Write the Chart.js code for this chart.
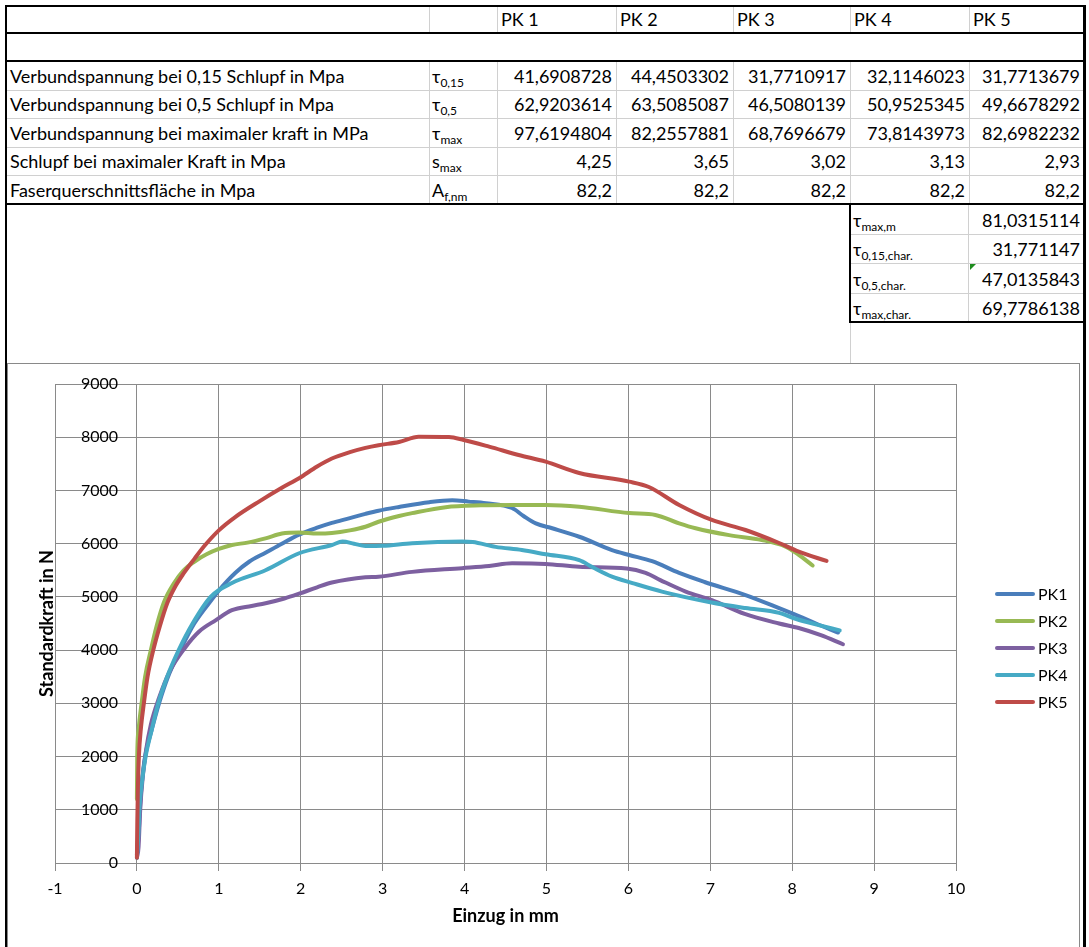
<!DOCTYPE html>
<html lang="de">
<head>
<meta charset="utf-8">
<title>Auszugversuche PK 1 bis PK 5</title>
<script src="https://cdn.jsdelivr.net/npm/chart.js@4.4.1/dist/chart.umd.min.js"></script>
<style>
  html, body { margin: 0; padding: 0; background: #fff; }
  body { position: relative; width: 1089px; height: 947px; overflow: hidden; font-family: Lato, "Open Sans", sans-serif; color: #000; }
  .z { position: absolute; box-sizing: border-box; display: flex; align-items: flex-end; font-size: 18px; line-height: 1; padding: 0 4px 5px 4px; white-space: nowrap; }
  .z.r { justify-content: flex-end; }
  .z sub { font-size: 12px; line-height: 1; vertical-align: baseline; position: relative; top: 4px; }
  .l { position: absolute; }
  #rahmen { position: absolute; left: 7px; top: 363px; width: 1073px; height: 620px; border: 1px solid #898989; box-sizing: border-box; }
  #grafik { position: absolute; left: 7px; top: 364px; }
  #legende { position: absolute; left: 995px; top: 580px; font-size: 16px; }
  #legende div { height: 27px; display: flex; align-items: center; }
  #legende span.strich { display: inline-block; width: 40px; height: 4px; border-radius: 2px; margin-right: 3px; }
  .ecke { position: absolute; width: 0; height: 0; border-top: 6px solid #1e8c1e; border-right: 6px solid transparent; }
</style>
</head>
<body>
<div id="rahmen"></div>
<canvas id="grafik" width="1073" height="583"></canvas>
<div id="legende"></div>
<script>
// Kennwerte der Probekörper
const probekoerper = ['PK 1', 'PK 2', 'PK 3', 'PK 4', 'PK 5'];
const kennwerte = [
  'Verbundspannung bei 0,15 Schlupf in Mpa',
  'Verbundspannung bei 0,5 Schlupf in Mpa',
  'Verbundspannung bei maximaler kraft in MPa',
  'Schlupf bei maximaler Kraft in Mpa',
  'Faserquerschnittsfläche in Mpa'
];
const symbole = [['τ', '0,15'], ['τ', '0,5'], ['τ', 'max'], ['s', 'max'], ['A', 'f,nm']];
const werte = [
  ['41,6908728', '44,4503302', '31,7710917', '32,1146023', '31,7713679'],
  ['62,9203614', '63,5085087', '46,5080139', '50,9525345', '49,6678292'],
  ['97,6194804', '82,2557881', '68,7696679', '73,8143973', '82,6982232'],
  ['4,25', '3,65', '3,02', '3,13', '2,93'],
  ['82,2', '82,2', '82,2', '82,2', '82,2']
];
const auswertungSymbole = [['τ', 'max,m'], ['τ', '0,15,char.'], ['τ', '0,5,char.'], ['τ', 'max,char.']];
const auswertungWerte = ['81,0315114', '31,771147', '47,0135843', '69,7786138'];

// Kraft-Einzug-Kurven (Einzug in mm, Standardkraft in N)
const einzugPK1 = [0, 0.02, 0.04, 0.06, 0.1, 0.18, 0.27, 0.38, 0.53, 0.7, 0.94, 1.0, 1.2, 1.37, 1.57, 1.77, 1.98, 2.2, 2.38, 2.6, 2.79, 2.95, 3.2, 3.57, 3.85, 4.05, 4.26, 4.58, 4.72, 4.87, 5.07, 5.4, 5.8, 6.01, 6.29, 6.62, 6.93, 7.43, 7.84, 8.08, 8.29, 8.56];
const kraftPK1  = [150, 500, 1100, 1500, 2000, 2500, 3000, 3500, 4000, 4500, 5000, 5120, 5450, 5660, 5830, 6000, 6170, 6300, 6390, 6480, 6560, 6620, 6690, 6780, 6815, 6790, 6760, 6670, 6520, 6380, 6290, 6130, 5880, 5787, 5670, 5450, 5280, 5035, 4790, 4640, 4500, 4330];

const einzugPK2 = [0, 0.004, 0.02, 0.057, 0.1, 0.17, 0.24, 0.33, 0.45, 0.57, 0.7, 0.85, 1.0, 1.16, 1.35, 1.57, 1.77, 1.98, 2.2, 2.38, 2.6, 2.79, 2.95, 3.2, 3.36, 3.77, 4.2, 4.58, 4.99, 5.4, 6.01, 6.33, 6.62, 6.82, 7.23, 7.63, 7.92, 8.08, 8.25];
const kraftPK2  = [1200, 2000, 2500, 3000, 3500, 4000, 4450, 4900, 5250, 5500, 5660, 5800, 5900, 5975, 6020, 6100, 6190, 6210, 6190, 6200, 6250, 6318, 6412, 6520, 6574, 6686, 6720, 6727, 6727, 6695, 6574, 6540, 6382, 6290, 6160, 6070, 5945, 5790, 5590];

const einzugPK3 = [0, 0.02, 0.04, 0.07, 0.11, 0.17, 0.27, 0.4, 0.59, 0.76, 0.96, 1.16, 1.4, 1.57, 1.8, 1.98, 2.2, 2.38, 2.79, 2.95, 3.36, 3.97, 4.3, 4.58, 4.99, 5.4, 5.98, 6.21, 6.39, 6.7, 7.02, 7.42, 7.84, 8.08, 8.35, 8.62];
const kraftPK3  = [100, 300, 1000, 1600, 2100, 2600, 3100, 3600, 4050, 4350, 4560, 4750, 4830, 4880, 4970, 5060, 5180, 5270, 5370, 5380, 5470, 5540, 5580, 5630, 5620, 5567, 5534, 5450, 5316, 5100, 4940, 4680, 4500, 4415, 4280, 4110];

const einzugPK4 = [0, 0.02, 0.03, 0.06, 0.106, 0.18, 0.26, 0.37, 0.51, 0.68, 0.9, 1.16, 1.57, 1.98, 2.38, 2.51, 2.65, 2.79, 3.0, 3.36, 3.97, 4.1, 4.38, 4.7, 4.99, 5.4, 5.56, 5.8, 6.05, 6.41, 7.0, 7.43, 7.84, 8.05, 8.3, 8.58];
const kraftPK4  = [100, 600, 1000, 1500, 2000, 2500, 3000, 3500, 4000, 4500, 5000, 5260, 5500, 5820, 5975, 6040, 6000, 5955, 5960, 6010, 6040, 6030, 5940, 5880, 5800, 5690, 5560, 5380, 5260, 5100, 4900, 4790, 4700, 4585, 4480, 4370];

const einzugPK5 = [0, 0.005, 0.012, 0.024, 0.05, 0.085, 0.13, 0.2, 0.28, 0.37, 0.47, 0.57, 0.7, 0.82, 1.0, 1.2, 1.5, 1.77, 1.98, 2.2, 2.38, 2.6, 2.79, 2.95, 3.2, 3.44, 3.81, 3.99, 4.3, 4.66, 4.99, 5.4, 6.01, 6.25, 6.62, 7.02, 7.43, 7.84, 8.08, 8.42];
const kraftPK5  = [100, 800, 1400, 2000, 2550, 3000, 3500, 4000, 4450, 4880, 5200, 5440, 5710, 5950, 6250, 6500, 6800, 7050, 7230, 7450, 7600, 7720, 7800, 7850, 7910, 8010, 8004, 7948, 7823, 7666, 7540, 7327, 7165, 7065, 6727, 6445, 6257, 6013, 5850, 5675];

const reihenNamen = ['PK1', 'PK2', 'PK3', 'PK4', 'PK5'];
const reihenFarben = ['#4a7ebb', '#98b954', '#7d60a0', '#46aac5', '#be4b48'];
const einzug = [einzugPK1, einzugPK2, einzugPK3, einzugPK4, einzugPK5];
const kraft = [kraftPK1, kraftPK2, kraftPK3, kraftPK4, kraftPK5];

const xMin = -1, xMax = 10, xSchritt = 1;
const yMin = 0, yMax = 9000, ySchritt = 1000;

// --- Tabelle über der Grafik ---
const spalten = [6, 429, 497, 616, 733, 850, 969, 1084];
const zeilen = [61, 89.6, 118.2, 146.8, 175.4, 204];
const zeilenAuswertung = [204, 233.5, 263, 292.5, 322];
const grau = '#d0d0d0';

function linie(x, y, w, h, farbe) {
  const d = document.createElement('div');
  d.className = 'l';
  Object.assign(d.style, { left: x + 'px', top: y + 'px', width: w + 'px', height: h + 'px', background: farbe });
  document.body.appendChild(d);
}

function zelle(x0, y0, x1, y1, html, rechts) {
  const d = document.createElement('div');
  d.className = rechts ? 'z r' : 'z';
  Object.assign(d.style, { left: x0 + 'px', top: y0 + 'px', width: (x1 - x0) + 'px', height: (y1 - y0) + 'px' });
  d.innerHTML = html;
  document.body.appendChild(d);
}

const mitIndex = s => s[0] + '<sub>' + s[1] + '</sub>';

// Kopfzeile
spalten.slice(1, -1).forEach(x => linie(x, 6, 1, 27, grau));
probekoerper.forEach((pk, i) => zelle(spalten[i + 2], 6, spalten[i + 3], 33, pk, false));

// Kennwertzeilen
zeilen.slice(1, -1).forEach(y => linie(6, y, 1078, 1, grau));
spalten.slice(1, -1).forEach(x => linie(x, 61, 1, 143, grau));
kennwerte.forEach((text, r) => {
  const y0 = zeilen[r], y1 = zeilen[r + 1];
  zelle(spalten[0], y0, spalten[1], y1, text, false);
  zelle(spalten[1] - 1, y0, spalten[2], y1, mitIndex(symbole[r]), false);
  werte[r].forEach((w, i) => zelle(spalten[i + 2], y0, spalten[i + 3], y1, w, true));
});

// Auswertung rechts unten
linie(968, 204, 1, 118, grau);
zeilenAuswertung.slice(1, -1).forEach(y => linie(850, y, 234, 1, grau));
linie(850, 322, 1, 41, grau);
auswertungSymbole.forEach((s, r) => {
  const y0 = zeilenAuswertung[r], y1 = zeilenAuswertung[r + 1];
  zelle(849, y0, 968, y1, mitIndex(s), false);
  zelle(968, y0, 1084, y1, auswertungWerte[r], true);
});
const ecke = document.createElement('div');
ecke.className = 'ecke';
Object.assign(ecke.style, { left: '970px', top: '264px' });
document.body.appendChild(ecke);

// dicke Rahmenlinien
linie(5, 5, 1081, 2, '#000');
linie(5, 32, 1081, 2, '#000');
linie(5, 60, 1081, 2, '#000');
linie(5, 203, 1081, 2, '#000');
linie(849, 203, 2, 120, '#000');
linie(849, 321, 237, 2, '#000');
linie(5, 5, 2, 942, '#000');
linie(1083, 5, 3, 942, '#000');

// --- Legende ---
const legende = document.getElementById('legende');
reihenNamen.forEach((name, i) => {
  const eintrag = document.createElement('div');
  eintrag.innerHTML = '<span class="strich" style="background:' + reihenFarben[i] + '"></span>' + name;
  legende.appendChild(eintrag);
});

// --- Diagramm ---
const gitter = '#8a8a8a';
Chart.defaults.font.family = 'Lato';
Chart.defaults.color = '#000';

const datensaetze = reihenNamen.map((name, i) => ({
  label: name,
  data: einzug[i].map((x, k) => ({ x: x, y: kraft[i][k] })),
  borderColor: reihenFarben[i],
  backgroundColor: reihenFarben[i],
  borderWidth: 4,
  pointRadius: 0,
  cubicInterpolationMode: 'monotone',
  borderCapStyle: 'round',
  borderJoinStyle: 'round',
  order: reihenNamen.length - i   // PK5 liegt oben
}));

new Chart(document.getElementById('grafik'), {
  type: 'line',
  data: { datasets: datensaetze },
  options: {
    responsive: false,
    animation: false,
    layout: { padding: { left: 29, right: 124, top: 20, bottom: 20 } },
    plugins: {
      legend: { display: false },
      tooltip: { enabled: false }
    },
    scales: {
      x: {
        type: 'linear',
        min: xMin,
        max: xMax,
        ticks: { stepSize: xSchritt, padding: 8, font: { size: 16 }, callback: v => String(v) },
        grid: { color: gitter, tickLength: 8 },
        border: { color: gitter },
        title: { display: true, text: 'Einzug in mm', font: { size: 18, weight: 'bold' }, padding: { top: 0, bottom: 0 } },
        afterFit: s => { s.height = 64; }
      },
      y: {
        min: yMin,
        max: yMax,
        ticks: { stepSize: ySchritt, mirror: true, crossAlign: 'far', padding: 26, font: { size: 16 }, callback: v => String(v) },
        grid: { color: gitter, drawTicks: false },
        border: { color: gitter },
        title: { display: true, text: 'Standardkraft in N', font: { size: 18, weight: 'bold' }, padding: { top: 0, bottom: 0 } },
        afterFit: s => { s.width = 19; s.paddingTop = 0; s.paddingBottom = 0; }
      }
    }
  }
});
</script>
</body>
</html>
